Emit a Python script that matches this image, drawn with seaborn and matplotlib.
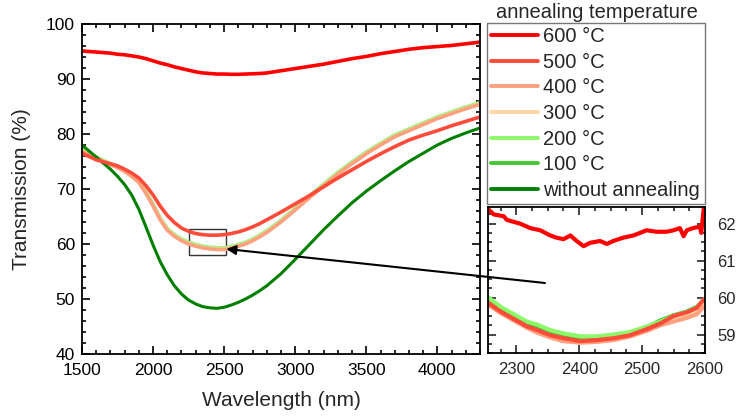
import numpy as np
import pandas as pd
import seaborn as sns
import matplotlib
matplotlib.use("Agg")
import matplotlib.pyplot as plt
from matplotlib.patches import Rectangle
from matplotlib.lines import Line2D
from matplotlib.ticker import MultipleLocator

# ---------------- data ----------------
wavelength = [1500, 1600, 1700, 1750, 1800, 1850, 1900, 1950, 2000, 2050, 2100, 2150, 2200,
              2250, 2300, 2350, 2400, 2450, 2500, 2550, 2600, 2650, 2700, 2750, 2800, 2900,
              3000, 3100, 3200, 3300, 3400, 3500, 3600, 3700, 3800, 3900, 4000, 4100, 4200, 4300]

t600 = [95.1, 94.9, 94.7, 94.5, 94.4, 94.2, 94.0, 93.7, 93.3, 92.9, 92.6, 92.2, 91.9,
        91.6, 91.3, 91.1, 91.0, 90.9, 90.9, 90.85, 90.85, 90.9, 90.95, 91.0, 91.1, 91.5,
        91.9, 92.3, 92.7, 93.2, 93.7, 94.1, 94.6, 95.0, 95.4, 95.7, 95.9, 96.1, 96.4, 96.7]
t500 = [76.5, 75.3, 74.6, 74.2, 73.6, 72.9, 72.0, 70.6, 68.9, 66.9, 65.2, 63.9, 62.9,
        62.3, 61.9, 61.7, 61.6, 61.6, 61.7, 61.9, 62.2, 62.6, 63.1, 63.7, 64.4, 65.8,
        67.3, 68.8, 70.4, 72.0, 73.5, 75.0, 76.4, 77.7, 78.9, 79.8, 80.6, 81.5, 82.3, 83.1]
t400 = [76.8, 75.6, 74.4, 73.9, 73.2, 72.3, 71.2, 69.2, 66.9, 64.4, 62.5, 61.4, 60.6,
        60.0, 59.6, 59.3, 59.1, 59.0, 59.0, 59.2, 59.6, 60.0, 60.6, 61.3, 62.1, 64.0,
        66.2, 68.4, 70.6, 72.7, 74.6, 76.4, 78.0, 79.5, 80.6, 81.7, 82.8, 83.7, 84.6, 85.4]
t300 = [76.9, 75.6, 74.5, 73.9, 73.2, 72.3, 71.2, 69.3, 67.0, 64.5, 62.6, 61.5, 60.7,
        60.1, 59.7, 59.4, 59.2, 59.1, 59.1, 59.3, 59.7, 60.1, 60.7, 61.4, 62.2, 64.1,
        66.3, 68.5, 70.7, 72.8, 74.7, 76.5, 78.1, 79.6, 80.7, 81.8, 82.9, 83.8, 84.7, 85.5]
t200 = [77.2, 75.8, 74.6, 74.1, 73.4, 72.5, 71.4, 69.5, 67.2, 64.7, 62.8, 61.7, 60.9,
        60.3, 59.9, 59.6, 59.4, 59.3, 59.3, 59.5, 59.9, 60.3, 60.9, 61.6, 62.4, 64.3,
        66.5, 68.7, 70.9, 73.0, 74.9, 76.7, 78.3, 79.8, 80.9, 82.0, 83.1, 84.0, 84.9, 85.7]
t100 = [77.7, 75.7, 74.5, 74.0, 73.3, 72.4, 71.3, 69.4, 67.1, 64.6, 62.6, 61.5, 60.7,
        60.1, 59.7, 59.4, 59.2, 59.1, 59.1, 59.3, 59.7, 60.1, 60.7, 61.4, 62.2, 64.1,
        66.4, 68.6, 70.8, 72.9, 74.8, 76.6, 78.2, 79.7, 80.8, 81.9, 83.0, 83.9, 84.8, 85.6]
t_none = [78.0, 75.8, 73.6, 72.3, 70.8, 68.9, 66.3, 63.1, 59.8, 56.8, 54.4, 52.4, 50.9,
          49.8, 49.1, 48.6, 48.4, 48.3, 48.5, 48.9, 49.4, 50.0, 50.7, 51.5, 52.4, 54.6,
          57.2, 59.9, 62.6, 65.1, 67.5, 69.6, 71.5, 73.3, 75.0, 76.5, 78.0, 79.2, 80.2, 81.1]

labels = ["600 °C", "500 °C", "400 °C", "300 °C", "200 °C", "100 °C", "without annealing"]
colors = ["#ff0000", "#ff4b3a", "#ffa07e", "#ffd6a6", "#8cf86a", "#44c733", "#008000"]

# inset (zoomed region 2250-2600 nm)
inset_wl_top = [2256, 2264, 2280, 2285, 2306, 2322, 2338, 2354, 2364, 2375, 2386, 2396, 2407,
                2417, 2433, 2444, 2454, 2470, 2486, 2497, 2507, 2523, 2539, 2550, 2560, 2566,
                2571, 2581, 2592, 2594, 2598]
inset_top = [62.38, 62.25, 62.2, 62.1, 62.0, 61.88, 61.82, 61.68, 61.62, 61.58, 61.68, 61.53,
             61.39, 61.48, 61.53, 61.45, 61.53, 61.62, 61.68, 61.75, 61.82, 61.78, 61.78, 61.82,
             61.88, 61.66, 61.82, 61.88, 61.92, 61.75, 62.4]
inset_wl = [2256, 2275, 2296, 2317, 2333, 2354, 2375, 2402, 2428, 2455, 2481, 2508, 2529,
            2550, 2571, 2587, 2598]
inset_500 = [59.85, 59.62, 59.42, 59.22, 59.12, 58.98, 58.90, 58.82, 58.85, 58.90, 58.98,
             59.15, 59.30, 59.50, 59.60, 59.72, 59.95]
inset_400 = [59.80, 59.58, 59.38, 59.18, 59.05, 58.92, 58.82, 58.78, 58.80, 58.85, 58.95,
             59.10, 59.25, 59.35, 59.45, 59.55, 59.75]
inset_300 = [59.83, 59.60, 59.40, 59.20, 59.08, 58.95, 58.85, 58.80, 58.83, 58.88, 58.98,
             59.12, 59.28, 59.42, 59.52, 59.62, 59.80]
inset_200 = [60.00, 59.75, 59.55, 59.35, 59.27, 59.12, 59.03, 58.95, 58.95, 59.00, 59.07,
             59.22, 59.35, 59.50, 59.60, 59.73, 59.95]
inset_100 = [59.95, 59.72, 59.52, 59.32, 59.22, 59.08, 58.99, 58.90, 58.92, 58.97, 59.05,
             59.20, 59.38, 59.52, 59.62, 59.75, 59.90]

# ---------------- style ----------------
sns.set_style("ticks")
plt.rcParams["font.family"] = ["Liberation Sans", "DejaVu Sans"]

fig = plt.figure(figsize=(7.42, 4.16), dpi=100)
W, H = 742, 416
ax = fig.add_axes([82 / W, 1 - 354 / H, 398 / W, 330 / H])

series_main = [t100, t200, t300, t400, t_none, t500, t600]
series_idx = [5, 4, 3, 2, 6, 1, 0]
for ys, i in zip(series_main, series_idx):
    sns.lineplot(x=wavelength, y=ys, ax=ax, color=colors[i],
                 lw=2.6 if i != 6 else 2.2, legend=False)

ax.set_xlim(1500, 4300)
ax.set_ylim(40, 100)
ax.xaxis.set_major_locator(MultipleLocator(500))
ax.xaxis.set_minor_locator(MultipleLocator(100))
ax.yaxis.set_major_locator(MultipleLocator(10))
ax.yaxis.set_minor_locator(MultipleLocator(2))
ax.tick_params(which="both", direction="in", top=True, right=True, width=1.2,
               labelsize=12.5, colors="black", pad=5)
ax.tick_params(axis="x", which="both", pad=6.5)
ax.tick_params(which="major", length=6)
ax.tick_params(which="minor", length=3)
for s in ax.spines.values():
    s.set_linewidth(1.3)
    s.set_color("black")
ax.set_xlabel("Wavelength (nm)", fontsize=15, labelpad=9)
ax.set_ylabel("Transmission (%)", fontsize=15, labelpad=11)

ax.add_patch(Rectangle((2250, 58.0), 265, 4.7, fill=False, edgecolor="#333333", lw=1.0))

# inset
axi = fig.add_axes([488 / W, 1 - 353 / H, 217 / W, 146 / H])
axi.patch.set_alpha(0)
inset_series = [inset_100, inset_200, inset_300, inset_400, inset_500]
inset_cols = [colors[5], colors[4], colors[3], colors[2], colors[1]]
for ys, c in zip(inset_series, inset_cols):
    sns.lineplot(x=inset_wl, y=ys, ax=axi, color=c, lw=3.0, legend=False)
sns.lineplot(x=inset_wl_top, y=inset_top, ax=axi, color=colors[0], lw=3.0, legend=False)
axi.set_xlim(2255, 2600)
axi.set_ylim(58.5, 62.45)
axi.xaxis.set_major_locator(MultipleLocator(100))
axi.xaxis.set_minor_locator(MultipleLocator(25))
axi.yaxis.set_major_locator(MultipleLocator(1))
axi.yaxis.set_minor_locator(MultipleLocator(0.25))
axi.tick_params(which="both", direction="in", top=True, right=True, left=True,
                labelleft=False, labelright=True, width=1.2, labelsize=12, pad=6.5)
axi.tick_params(axis="y", which="both", pad=9)
axi.tick_params(which="major", length=6)
axi.tick_params(which="minor", length=3)
for s in axi.spines.values():
    s.set_linewidth(1.3)
    s.set_color("black")

# arrow
ax.annotate("", xy=(2515, 59.1), xycoords="data",
            xytext=(545 / W, 1 - 283 / H), textcoords="figure fraction",
            arrowprops=dict(arrowstyle="-|>", color="black", lw=1.5, mutation_scale=14,
                            shrinkA=0, shrinkB=0),
            annotation_clip=False)

# legend
handles = [Line2D([], [], color=c, lw=2.8) for c in colors]
leg = fig.legend(handles, labels, loc="upper left",
                 bbox_to_anchor=(487 / W, 1 - 204 / H, 218 / W, 181 / H),
                 mode="expand", borderaxespad=0, fontsize=14.5, frameon=True,
                 fancybox=False, edgecolor="#555555", handlelength=2.35,
                 handletextpad=0.25, labelspacing=0.33, borderpad=0.2)
leg.get_frame().set_linewidth(1.0)
fig.text(597 / W, 1 - 12 / H, "annealing temperature", ha="center", va="center",
         fontsize=14.5)

fig.savefig("out.png", dpi=100)
